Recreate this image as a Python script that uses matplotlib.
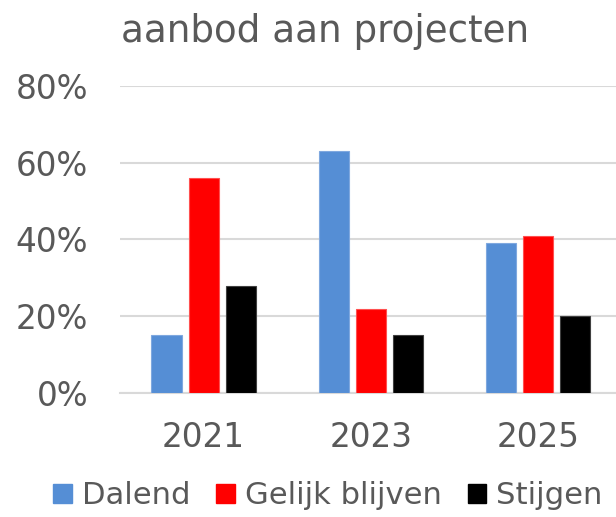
import numpy as np
import matplotlib.pyplot as plt
from matplotlib.patches import Patch

jaren = ['2021', '2023', '2025']
reeksen = ['Dalend', 'Gelijk blijven', 'Stijgen']
dalend = [15, 63, 39]
gelijk = [56, 22, 41]
stijgen = [28, 15, 20]
kleuren = ['#558ED5', '#FF0000', '#000000']
randen = ['#7FA8DF', '#FF5050', '#404040']

grijs = '#595959'
plt.rcParams['font.family'] = ['DejaVu Sans']

fig = plt.figure(figsize=(6.16, 5.17), dpi=100)
ax = fig.add_axes([120/616, 1-393/517, 496/616, 307/517])

x = np.arange(len(jaren))
w = 0.18
stap = 0.222
for i, (vals, kl, rd) in enumerate(zip([dalend, gelijk, stijgen], kleuren, randen)):
    ax.bar(x + (i-1)*stap, vals, w, color=kl, edgecolor=rd, linewidth=0.8, zorder=3)

ax.set_ylim(0, 80)
ax.set_xlim(-0.5, 2.467)
ax.set_yticks([0, 20, 40, 60, 80])
ax.set_yticklabels(['0%', '20%', '40%', '60%', '80%'])
ax.set_xticks(x)
ax.set_xticklabels(jaren)
ax.grid(axis='y', color='#D9D9D9', linewidth=1.5, zorder=0)
for s in ['top', 'right', 'left']:
    ax.spines[s].set_visible(False)
ax.spines['bottom'].set_color('#D9D9D9')
ax.spines['bottom'].set_linewidth(1.5)
ax.tick_params(axis='both', length=0, labelsize=23.5, colors=grijs)
ax.tick_params(axis='y', pad=23)
ax.tick_params(axis='x', pad=20)

fig.text(121/616, 1-42/517, 'aanbod aan projecten', fontsize=26.8, color=grijs, va='baseline', ha='left')

handles = [Patch(facecolor=k, edgecolor=k) for k in kleuren]
fig.legend(handles, reeksen, loc='center', bbox_to_anchor=(328/616, 1-496/517), ncol=3, frameon=False,
           fontsize=22.1, labelcolor=grijs, handlelength=0.6, handleheight=0.6, handletextpad=0.33,
           columnspacing=0.85, borderpad=0, borderaxespad=0)

fig.savefig('out.png', dpi=100)
